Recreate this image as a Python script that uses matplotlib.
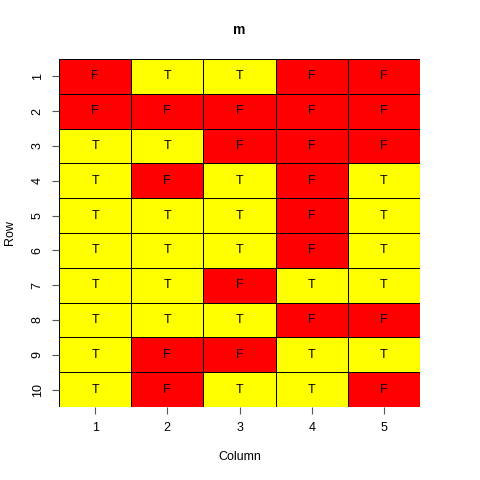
import numpy as np
import matplotlib
matplotlib.use("Agg")
import matplotlib.pyplot as plt
from matplotlib.colors import ListedColormap

plt.rcParams["font.family"] = ["Liberation Sans", "DejaVu Sans"]

rows = [1, 2, 3, 4, 5, 6, 7, 8, 9, 10]
cols = [1, 2, 3, 4, 5]
m = [
    "FTTFF",
    "FFFFF",
    "TTFFF",
    "TFTFT",
    "TTTFT",
    "TTTFT",
    "TTFTT",
    "TTTFF",
    "TFFTT",
    "TFTTF",
]

values = np.array([[1 if c == "T" else 0 for c in r] for r in m])

fig = plt.figure(figsize=(4.8, 4.8), dpi=100)
ax = fig.add_axes([59 / 480, 73 / 480, 361 / 480, 348 / 480])

cmap = ListedColormap(["#FF0000", "#FFFF00"])
x_edges = np.arange(len(cols) + 1) + 0.5
y_edges = np.arange(len(rows) + 1) + 0.5
ax.pcolormesh(x_edges, y_edges, values, cmap=cmap, vmin=0, vmax=1,
              edgecolors="black", linewidth=0.4)

for i, r in enumerate(rows):
    for j, c in enumerate(cols):
        ax.text(c, r, m[i][j], ha="center", va="center", fontsize=9)

ax.set_xlim(0.5, len(cols) + 0.5)
ax.set_ylim(len(rows) + 0.5, 0.5)
for s in ax.spines.values():
    s.set_visible(False)

ax.set_xticks(cols)
ax.set_yticks(rows)
ax.set_xticklabels([str(c) for c in cols])
ax.set_yticklabels([str(r) for r in rows], rotation=90, va="center")
ax.tick_params(direction="out", length=5, width=0.8, labelsize=9, pad=6,
               color="#555555")

ax.set_xlabel("Column", fontsize=9, labelpad=12)
ax.set_ylabel("Row", fontsize=9, labelpad=11)
ax.set_title("m", fontsize=10, fontweight="bold", pad=18)

fig.savefig("out.png", dpi=100)
